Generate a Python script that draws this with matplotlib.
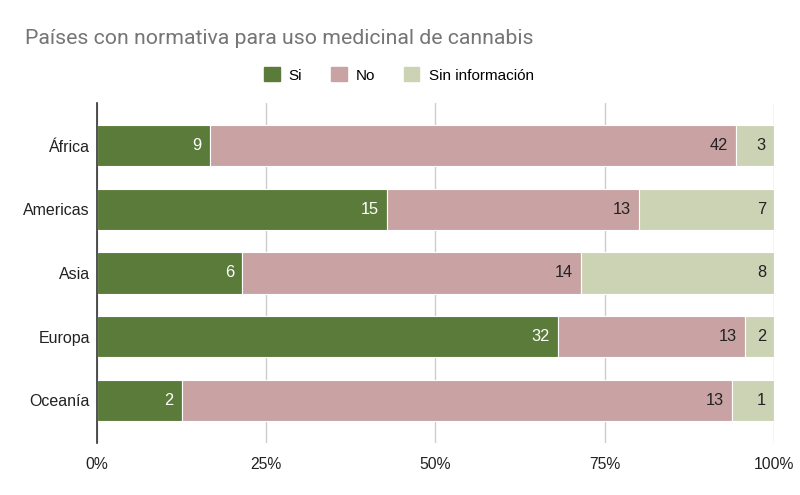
import numpy as np
import matplotlib.pyplot as plt
from matplotlib.patches import Patch

plt.rcParams['font.family'] = ['Liberation Sans', 'DejaVu Sans']

regions = ["África", "Americas", "Asia", "Europa", "Oceanía"]
si = [9, 15, 6, 32, 2]
no = [42, 13, 14, 13, 13]
sin_info = [3, 7, 8, 2, 1]

series_names = ["Si", "No", "Sin información"]
colors = ["#5b7b3b", "#c9a3a4", "#ccd3b5"]
label_colors = ["white", "#222222", "#222222"]

data = np.array([si, no, sin_info], dtype=float)
totals = data.sum(axis=0)
pct = data / totals * 100

fig = plt.figure(figsize=(8, 4.95), dpi=100)
ax = fig.add_axes([0.12125, 0.105, 0.84625, 0.687])

y = np.arange(len(regions))
left = np.zeros(len(regions))
for i in range(3):
    ax.barh(y, pct[i], left=left, height=0.65, color=colors[i],
            edgecolor="white", linewidth=0.8, zorder=3)
    for j in range(len(regions)):
        ax.text(left[j] + pct[i][j] - 1.2, y[j], str(int(data[i][j])),
                ha="right", va="center", fontsize=11.8,
                color=label_colors[i], zorder=4)
    left += pct[i]

ax.set_xlim(0, 100)
ax.set_ylim(4.67, -0.67)
ax.set_yticks(y)
ax.set_yticklabels(regions, fontsize=11.5, color="#222222")
ax.set_xticks([0, 25, 50, 75, 100])
ax.set_xticklabels(["0%", "25%", "50%", "75%", "100%"], fontsize=11.3, color="#222222")
ax.tick_params(length=0, pad=10)
ax.tick_params(axis="y", pad=5)
ax.grid(axis="x", color="#cccccc", linewidth=1, zorder=0)
for s in ["top", "right", "bottom"]:
    ax.spines[s].set_visible(False)
ax.spines["left"].set_color("#333333")
ax.spines["left"].set_linewidth(1.2)
ax.spines["left"].set_zorder(5)

fig.text(25 / 800, 1 - 38 / 495, "Países con normativa para uso medicinal de cannabis",
         fontsize=15.3, color="#757575", va="center", ha="left", family=["Roboto", "DejaVu Sans"])

handles = [Patch(facecolor=c, edgecolor=c) for c in colors]
fig.legend(handles, series_names, loc="center", bbox_to_anchor=(399 / 800, 1 - 75 / 495),
           ncol=3, frameon=False, fontsize=11, handlelength=1.0, handleheight=1.0,
           columnspacing=1.9, handletextpad=0.6)

fig.savefig("out.png", dpi=100)
